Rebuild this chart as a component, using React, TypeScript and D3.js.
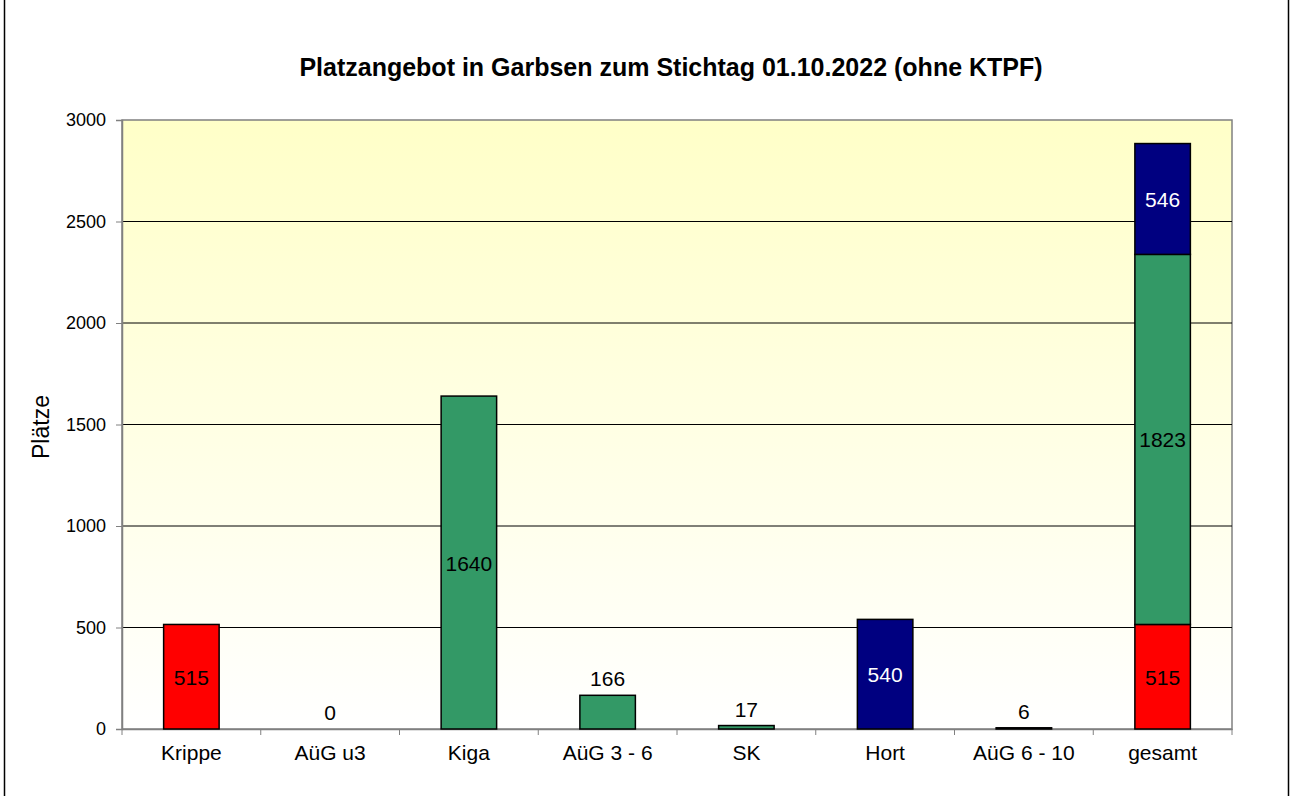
import React, { useEffect, useRef } from 'react';
import * as d3 from 'd3';

const categories = ['Krippe', 'AüG u3', 'Kiga', 'AüG 3 - 6', 'SK', 'Hort', 'AüG 6 - 10', 'gesamt'];
// value per category and its colour group (u3 / 3-6 / 6-10)
const singleValues = [515, 0, 1640, 166, 17, 540, 6];
const singleGroups = ['u3', 'u3', 'k', 'k', 'k', 'h', 'h'];
// stacked total column
const totalStack = [
  { group: 'u3', value: 515 },
  { group: 'k', value: 1823 },
  { group: 'h', value: 546 },
];
const yTicks = [0, 500, 1000, 1500, 2000, 2500, 3000];

const colors: Record<string, string> = { u3: '#FF0000', k: '#339966', h: '#000080' };
const textColors: Record<string, string> = { u3: '#000000', k: '#000000', h: '#FFFFFF' };

const W = 1290;
const H = 796;
const margin = { top: 120, right: 58, bottom: 67, left: 122 };

export default function App() {
  const svgRef = useRef<SVGSVGElement>(null);

  useEffect(() => {
    if (!svgRef.current) return;
    const svg = d3.select(svgRef.current);
    svg.selectAll('*').remove();

    const font = 'Liberation Sans, Arial, sans-serif';

    const x = d3.scaleBand<string>()
      .domain(categories)
      .range([margin.left, W - margin.right]);
    const y = d3.scaleLinear()
      .domain([0, 3000])
      .range([H - margin.bottom, margin.top]);

    const barW = x.bandwidth() * 0.4;

    // background gradient
    const defs = svg.append('defs');
    const grad = defs.append('linearGradient')
      .attr('id', 'bg').attr('x1', 0).attr('y1', 0).attr('x2', 0).attr('y2', 1);
    grad.append('stop').attr('offset', '0%').attr('stop-color', '#FFFFC8');
    grad.append('stop').attr('offset', '100%').attr('stop-color', '#FFFFFF');

    svg.append('rect')
      .attr('x', margin.left).attr('y', y(3000))
      .attr('width', W - margin.right - margin.left)
      .attr('height', y(0) - y(3000))
      .attr('fill', 'url(#bg)')
      .attr('stroke', '#808080').attr('stroke-width', 1.5);

    // outer frame (left/right edges)
    svg.append('line').attr('x1', 4.5).attr('x2', 4.5).attr('y1', 0).attr('y2', H)
      .attr('stroke', '#000').attr('stroke-width', 1.5);
    svg.append('line').attr('x1', 1288.5).attr('x2', 1288.5).attr('y1', 0).attr('y2', H)
      .attr('stroke', '#000').attr('stroke-width', 1.5);

    // gridlines
    svg.append('g')
      .selectAll('line')
      .data(yTicks.filter(t => t > 0 && t < 3000))
      .enter()
      .append('line')
      .attr('x1', margin.left).attr('x2', W - margin.right)
      .attr('y1', d => y(d)).attr('y2', d => y(d))
      .attr('stroke', '#000').attr('stroke-width', 1);

    // y axis
    const yAxis = svg.append('g')
      .attr('transform', `translate(${margin.left},0)`)
      .call(d3.axisLeft(y).tickValues(yTicks).tickFormat(d3.format('d')).tickSize(6).tickPadding(10));
    yAxis.select('.domain').attr('stroke', '#808080').attr('stroke-width', 1.5);
    yAxis.selectAll('.tick line').attr('stroke', '#808080');
    yAxis.selectAll('.tick text')
      .attr('font-family', font)
      .attr('font-size', 18).attr('fill', '#000');

    // x axis
    const xAxis = svg.append('g')
      .attr('transform', `translate(0,${y(0)})`)
      .call(d3.axisBottom(x).tickSize(0).tickPadding(16));
    xAxis.select('.domain').attr('stroke', '#808080').attr('stroke-width', 1.5);
    xAxis.selectAll('.tick text')
      .attr('font-family', font)
      .attr('font-size', 21).attr('fill', '#000');
    // category separator ticks
    const bounds = d3.range(categories.length + 1).map(i => margin.left + i * x.step());
    svg.append('g')
      .selectAll('line')
      .data(bounds)
      .enter()
      .append('line')
      .attr('x1', d => d).attr('x2', d => d)
      .attr('y1', y(0)).attr('y2', y(0) + 6)
      .attr('stroke', '#808080').attr('stroke-width', 1);

    // single bars
    const singles = singleValues.map((v, i) => ({ cat: categories[i], value: v, group: singleGroups[i] }));
    svg.append('g')
      .selectAll('rect')
      .data(singles.filter(d => d.value > 0))
      .enter()
      .append('rect')
      .attr('x', d => x(d.cat)! + x.bandwidth() / 2 - barW / 2)
      .attr('y', d => y(d.value))
      .attr('width', barW)
      .attr('height', d => y(0) - y(d.value))
      .attr('fill', d => colors[d.group])
      .attr('stroke', '#000').attr('stroke-width', 1.5);

    svg.append('g')
      .selectAll('text')
      .data(singles)
      .enter()
      .append('text')
      .attr('x', d => x(d.cat)! + x.bandwidth() / 2)
      .attr('y', d => d.value >= 300 ? (y(d.value) + y(0)) / 2 + 8 : y(d.value) - 9)
      .attr('text-anchor', 'middle')
      .attr('font-family', font).attr('font-size', 21)
      .attr('fill', d => d.value >= 300 ? textColors[d.group] : '#000')
      .text(d => d.value);

    // stacked total
    let acc = 0;
    const stacked = totalStack.map(s => {
      const seg = { ...s, y0: acc, y1: acc + s.value };
      acc += s.value;
      return seg;
    });
    const gx = x('gesamt')! + x.bandwidth() / 2;
    svg.append('g')
      .selectAll('rect')
      .data(stacked)
      .enter()
      .append('rect')
      .attr('x', gx - barW / 2)
      .attr('y', d => y(d.y1))
      .attr('width', barW)
      .attr('height', d => y(d.y0) - y(d.y1))
      .attr('fill', d => colors[d.group])
      .attr('stroke', '#000').attr('stroke-width', 1.5);
    svg.append('g')
      .selectAll('text')
      .data(stacked)
      .enter()
      .append('text')
      .attr('x', gx)
      .attr('y', d => (y(d.y0) + y(d.y1)) / 2 + 8)
      .attr('text-anchor', 'middle')
      .attr('font-family', font).attr('font-size', 21)
      .attr('fill', d => textColors[d.group])
      .text(d => d.value);

    // title
    svg.append('text')
      .attr('x', 671).attr('y', 76)
      .attr('text-anchor', 'middle')
      .attr('font-family', font).attr('font-size', 25).attr('font-weight', 'bold')
      .text('Platzangebot in Garbsen zum Stichtag 01.10.2022 (ohne KTPF)');

    // y label
    svg.append('text')
      .attr('transform', `translate(49,427) rotate(-90)`)
      .attr('text-anchor', 'middle')
      .attr('font-family', font).attr('font-size', 23)
      .text('Plätze');
  }, []);

  return (
    <svg
      ref={svgRef}
      width={W}
      height={H}
      style={{ position: 'absolute', left: 0, top: 0, background: '#fff', display: 'block' }}
    />
  );
}
